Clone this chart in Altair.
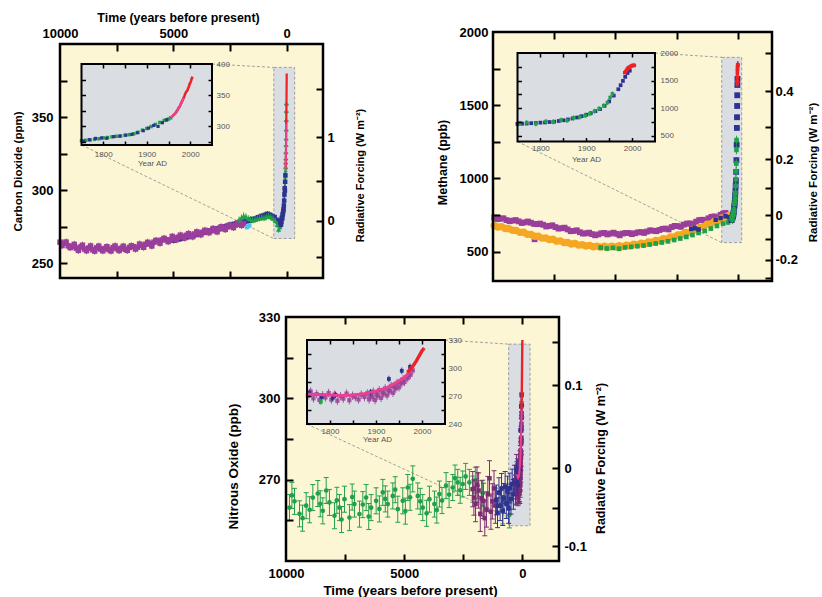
import math
import altair as alt
import pandas as pd

W, H = 822, 597
FONT = "Liberation Sans, Arial, sans-serif"
SFONT = "Liberation Sans, Arial, sans-serif"

YELLOW = "#fdf6d5"
GREY = "#dadde2"
PURPLE = "#9a3e9c"
BLUE = "#2d3290"
GREEN = "#21a04a"
RED = "#ec2227"
PINK = "#e9408f"
ORANGE = "#f5a623"
CYAN = "#4ec4ec"
DPURPLE = "#7d2c73"
PRESENT = 2005

# ======================= DATA =======================
# ---- Carbon dioxide (ppm) : long record, years before present ----
co2_purple_bp = [10000, 9820, 9640, 9460, 9280, 9100, 8920, 8740, 8560, 8380, 8200, 8020, 7840, 7660,
                 7480, 7300, 7120, 6940, 6760, 6580, 6400, 6220, 6040, 5860, 5680, 5500, 5320, 5140,
                 4960, 4780, 4600, 4420, 4240, 4060, 3880, 3700, 3520, 3340, 3160, 2980, 2800, 2620,
                 2440, 2260, 2080, 1900,
                 9910, 9730, 9550, 9370, 9190, 9010, 8830, 8650, 8470, 8290, 8110, 7930, 7750, 7570,
                 7390, 7210, 7030, 6850, 6670, 6490, 6310, 6130, 5950, 5770, 5590, 5410, 5230, 5050,
                 4870, 4690, 4510, 4330, 4150, 3970, 3790, 3610, 3430, 3250, 3070, 2890, 2710, 2530,
                 2350, 2170, 1990]
co2_purple = [264.5, 263.8, 262.0, 261.6, 260.4, 261.2, 259.8, 260.5, 259.3, 260.6, 259.7, 260.2, 259.4,
              260.8, 259.9, 260.3, 259.6, 260.9, 261.4, 261.0, 262.3, 263.1, 263.4, 264.5, 265.3, 266.0,
              266.2, 266.0, 267.3, 267.9, 268.4, 269.2, 269.0, 270.1, 270.8, 271.2, 271.9, 272.3, 272.8,
              273.6, 274.1, 274.9, 275.6, 276.2, 276.8, 277.1,
              262.2, 264.6, 260.8, 263.0, 258.9, 262.4, 258.7, 261.9, 258.4, 261.8, 258.6, 261.4, 258.5,
              261.9, 258.8, 261.7, 258.9, 262.0, 259.8, 263.2, 261.0, 264.4, 261.9, 265.7, 263.8, 267.1,
              264.9, 268.4, 266.2, 269.3, 267.4, 270.3, 268.2, 271.5, 269.6, 272.6, 271.0, 273.8, 271.6,
              275.0, 273.2, 276.1, 274.5, 277.6, 276.0]
co2_blue_bp = [5000, 4850, 4700, 4550, 4400, 4250, 4100, 3950, 3800, 3650, 3500, 3350, 3200, 3050, 2900,
               2750, 2600, 2450, 2300, 2150, 2000, 1850, 1700, 1550, 1400, 1250, 1100, 950, 850, 750,
               650, 550, 450, 350, 300]
co2_blue = [265.8, 266.4, 266.9, 267.6, 268.1, 268.9, 269.3, 270.0, 270.6, 271.3, 271.8, 272.4, 273.0,
            273.7, 274.2, 274.9, 275.6, 276.3, 276.8, 277.4, 278.1, 278.8, 279.2, 279.8, 280.4, 281.3,
            282.2, 282.9, 283.6, 283.0, 282.1, 281.4, 279.5, 277.6, 278.5]
co2_green_bp = [2100, 2000, 1900, 1800, 1700, 1600, 1500, 1400, 1300, 1200, 1100, 1000, 900, 800, 700,
                600, 500, 420, 360, 300]
co2_green = [279.8, 281.2, 282.6, 281.9, 280.8, 280.2, 279.6, 279.9, 280.4, 280.9, 281.3, 281.0, 281.8,
             282.4, 281.6, 280.7, 279.2, 276.4, 273.2, 274.8]
co2_cyan_bp = [1760, 1700, 1640]
co2_cyan = [274.6, 275.3, 275.9]
# ---- Carbon dioxide : since 1750, years AD ----
co2_rec_green_yr = [1750, 1760, 1770, 1780, 1790, 1800, 1810, 1820, 1830, 1840, 1850, 1860, 1870, 1880,
                    1890, 1900, 1910, 1920, 1930, 1940, 1945, 1950, 1955]
co2_rec_green = [277.0, 277.6, 278.2, 279.1, 280.0, 281.4, 282.0, 283.1, 284.0, 284.6, 285.5, 286.6, 288.0,
                 290.4, 293.8, 296.5, 299.6, 303.1, 306.2, 309.4, 310.6, 311.7, 313.6]
co2_firn_green_yr = [1958, 1962, 1966, 1970, 1974, 1978, 1982, 1986, 1990, 1993]
co2_firn_green = [315.0, 318.2, 321.0, 325.3, 330.1, 334.6, 340.8, 347.2, 353.4, 358.6]
co2_rec_blue_yr = [1755, 1768, 1782, 1796, 1808, 1824, 1838, 1852, 1866, 1878, 1892, 1904, 1916, 1926,
                   1936, 1946]
co2_rec_blue = [276.4, 278.5, 280.6, 281.3, 280.8, 283.4, 284.2, 285.9, 287.1, 289.6, 292.9, 297.1, 301.4,
                299.8, 305.8, 310.2]
co2_rec_pink_yr = [1955, 1960, 1965, 1970, 1975, 1980, 1985]
co2_rec_pink = [314.2, 317.2, 320.4, 325.1, 331.0, 338.2, 345.3]
co2_rec_red_yr = [1958, 1959, 1960, 1961, 1962, 1963, 1964, 1965, 1966, 1967, 1968, 1969, 1970, 1971,
                  1972, 1973, 1974, 1975, 1976, 1977, 1978, 1979, 1980, 1981, 1982, 1983, 1984, 1985,
                  1986, 1987, 1988, 1989, 1990, 1991, 1992, 1993, 1994, 1995, 1996, 1997, 1998, 1999,
                  2000, 2001, 2002, 2003, 2004, 2005]
co2_rec_red = [315.3, 316.0, 316.9, 317.6, 318.4, 319.0, 319.6, 320.0, 321.4, 322.2, 323.0, 324.6, 325.7,
               326.3, 327.5, 329.7, 330.2, 331.1, 332.0, 333.8, 335.4, 336.8, 338.7, 340.1, 341.4, 343.0,
               344.6, 346.0, 347.4, 349.2, 351.6, 353.1, 354.4, 355.6, 356.4, 357.1, 358.8, 360.8, 362.6,
               363.7, 366.7, 368.4, 369.6, 371.1, 373.2, 375.8, 377.5, 379.8]

# ---- Methane (ppb) : long record ----
ch4_purple_bp = [9950, 9700, 9450, 9200, 8950, 8700, 8450, 8200, 7950, 7700, 7450, 7200, 6950, 6700,
                 6450, 6200, 5950, 5700, 5450, 5200, 4950, 4700, 4450, 4200, 3950, 3700, 3450, 3200,
                 2950, 2700, 2450, 2200, 1950, 1700, 1450, 1200, 950, 700, 500,
                 9825, 9575, 9325, 9075, 8825, 8575, 8325, 8075, 7825, 7575, 7325, 7075, 6825, 6575,
                 6325, 6075, 5825, 5575, 5325, 5075, 4825, 4575, 4325, 4075, 3825, 3575, 3325, 3075,
                 2825, 2575, 2325, 2075, 1825, 1575, 1325, 1075, 825, 600, 8300]
ch4_purple = [733, 725, 716, 712, 707, 700, 698, 688, 684, 676, 668, 660, 652, 642, 633, 625, 620, 618,
              628, 624, 622, 624, 628, 626, 634, 638, 643, 648, 658, 668, 675, 685, 693, 705, 718, 728,
              741, 752, 765,
              722, 728, 708, 716, 696, 706, 690, 692, 672, 680, 658, 664, 640, 646, 624, 630, 612, 626,
              618, 630, 612, 628, 620, 632, 628, 646, 640, 656, 652, 676, 670, 692, 688, 716, 712, 738,
              734, 760, 585]
ch4_orange_bp = [9950, 9800, 9650, 9500, 9350, 9200, 9050, 8900, 8750, 8600, 8450, 8300, 8150, 8000,
                 7850, 7700, 7550, 7400, 7250, 7100, 6950, 6800, 6650, 6500, 6350, 6200, 6050, 5900,
                 5750, 5600, 5450, 5300, 5150, 5000, 4850, 4700, 4550, 4400, 4250, 4100, 3950, 3800,
                 3650, 3500, 3350, 3200, 3050, 2900, 2750, 2600, 2450, 2300, 2150, 2000, 1850, 1700,
                 1550, 1400, 1250, 1100, 950, 800, 650, 500, 350]
ch4_orange = [677, 669, 671, 658, 657, 646, 645, 632, 633, 619, 618, 605, 606, 593, 594, 583, 585, 572,
              574, 562, 563, 553, 556, 545, 548, 539, 543, 534, 538, 531, 537, 530, 538, 533, 541, 536,
              545, 541, 551, 547, 558, 555, 566, 564, 576, 575, 588, 587, 601, 601, 615, 616, 631, 632,
              648, 650, 667, 670, 687, 691, 709, 713, 731, 735, 748]
ch4_green_bp = [5600, 5350, 5100, 4850, 4600, 4350, 4100, 3850, 3600, 3350, 3100, 2850, 2600, 2350, 2100,
                1850, 1600, 1350, 1100, 850, 600, 400]
ch4_green = [528, 522, 526, 520, 529, 533, 538, 542, 549, 556, 563, 571, 580, 590, 601, 614, 628, 642,
             658, 676, 692, 700]
ch4_blue_bp = [1900, 1750, 1600, 900, 700, 500, 350]
ch4_blue = [655, 660, 652, 718, 730, 742, 735]
# ---- Methane : since 1750 ----
ch4_rec_blue_yr = [1750, 1760, 1770, 1780, 1790, 1800, 1810, 1820, 1830, 1840, 1850, 1860, 1870, 1880,
                   1890, 1900, 1910, 1920, 1930, 1940, 1950, 1960, 1970, 1975, 1980, 1985, 1990, 1995]
ch4_rec_blue = [716, 721, 724, 731, 734, 741, 744, 752, 759, 771, 784, 799, 816, 834, 858, 884, 912, 948,
                985, 1045, 1125, 1230, 1345, 1418, 1495, 1568, 1638, 1680]
ch4_rec_green_yr = [1755, 1770, 1790, 1812, 1828, 1845, 1858, 1872, 1886, 1898, 1908, 1918, 1928, 1938,
                    1946, 1952, 1957]
ch4_rec_green = [728, 742, 718, 762, 752, 788, 779, 828, 842, 868, 902, 948, 995, 1048, 1102, 1195, 1262]
ch4_rec_purple_yr = [1750, 1758]
ch4_rec_purple = [722, 731]
ch4_rec_red_yr = [1984, 1986, 1988, 1990, 1992, 1994, 1996, 1998, 2000, 2002, 2004, 2005]
ch4_rec_red = [1645, 1665, 1690, 1714, 1733, 1743, 1751, 1764, 1772, 1776, 1777, 1774]

# ---- Nitrous oxide (ppb) : long record ----
n2o_green_bp = [9852, 9641, 9429, 9147, 8865, 8654, 8443, 8161, 7949, 7738, 7526, 7315, 7104, 6892,
                6610, 6399, 6187, 5905, 5694, 5482, 5271, 5060, 4849, 4637, 4426, 4214, 3932, 3721,
                3510, 3228, 2946, 2735, 2523, 2241, 1889, 1678, 833, 550,
                9750, 9300, 9000, 8550, 8300, 7850, 7650, 7200, 6750, 6500, 6050, 5800, 5380, 4950,
                4750, 4320, 4050, 3620, 3400, 3100, 2850, 2630, 2400, 2100, 1990]
n2o_green = [259.7, 262.0, 257.4, 260.4, 263.4, 264.9, 258.5, 261.6, 256.7, 259.7, 262.8, 256.0, 261.0,
             257.3, 263.4, 259.7, 262.2, 265.3, 261.0, 264.0, 259.1, 262.2, 267.1, 270.3, 264.0, 259.7,
             262.8, 261.0, 264.7, 267.8, 267.1, 269.0, 268.4, 269.0, 267.8, 265.0, 258.5, 257.0,
             264.2, 255.8, 258.9, 261.1, 266.0, 262.4, 255.3, 263.6, 260.8, 256.4, 259.2, 262.9, 266.3,
             258.4, 263.5, 262.0, 257.6, 258.8, 262.3, 264.5, 270.6, 266.1, 271.2, 266.5, 269.8]
n2o_dpurple_bp = [2100, 2050, 1980, 1920, 1850, 1780, 1720, 1650, 1590, 1520, 1460, 1390, 1330, 1270,
                  1200, 1140]
n2o_dpurple = [266.5, 263.4, 261.0, 268.2, 266.0, 257.4, 263.1, 262.2, 255.8, 259.0, 264.7, 270.5, 258.2,
               262.0, 266.8, 260.4]
n2o_blue_bp = [1100, 1050, 990, 940, 880, 830, 780, 730, 680, 630, 580, 530, 480, 430, 380, 330, 290]
n2o_blue = [262.5, 257.8, 265.2, 260.4, 266.8, 258.6, 263.1, 267.5, 261.2, 265.8, 259.4, 266.9, 262.8,
            268.4, 264.6, 269.8, 266.2]
# ---- Nitrous oxide : since 1750 ----
n2o_rec_pink_yr = [1750, 1775, 1800, 1825, 1850, 1875, 1900, 1925, 1950, 1965, 1975]
n2o_rec_pink = [272.0, 271.6, 271.0, 270.6, 271.0, 272.4, 275.2, 279.3, 286.2, 291.0, 296.8]
n2o_rec_red_yr = [1968, 1972, 1976, 1980, 1984, 1988, 1992, 1996, 2000, 2005]
n2o_rec_red = [295.5, 297.4, 299.6, 302.0, 304.8, 308.0, 311.4, 314.9, 318.4, 321.5]
n2o_rec_purple_yr = [1752, 1758, 1764, 1771, 1777, 1784, 1790, 1797, 1803, 1810, 1816, 1823, 1829, 1836,
                     1842, 1849, 1855, 1862, 1868, 1875, 1881, 1888, 1894, 1901, 1907, 1914, 1920, 1927,
                     1933, 1940, 1946, 1953, 1959, 1966, 1972,
                     1885, 1892, 1898, 1904, 1911, 1917, 1924, 1930, 1937, 1943, 1950, 1956, 1962, 1969,
                     1975, 1980]
n2o_rec_purple = [270.2, 274.8, 267.5, 272.1, 265.8, 270.9, 268.4, 273.2, 266.1, 271.5, 264.9, 269.8,
                  267.2, 272.6, 265.5, 270.3, 268.8, 266.2, 271.4, 268.9, 272.8, 270.1, 274.6, 271.8,
                  276.2, 273.9, 278.1, 276.4, 280.8, 279.6, 283.9, 285.2, 288.1, 290.6, 294.2,
                  266.4, 268.9, 265.7, 270.3, 268.0, 272.5, 270.7, 275.2, 273.4, 278.0, 279.3, 283.6,
                  285.0, 289.2, 292.8, 297.5]
n2o_rec_blue_yr = [1755, 1782, 1806, 1812, 1888, 1928, 1956, 1974]
n2o_rec_blue = [273.5, 268.9, 268.0, 271.2, 274.0, 288.2, 297.0, 301.2]
n2o_rec_green_yr = [1780]
n2o_rec_green = [263.8]

# ---- radiative forcing axis definitions ----
co2_rf_ticks = [-0.5, 0, 0.5, 1, 1.5]
co2_rf_labels = ["", "0", "", "1", ""]
ch4_rf_ticks = [-0.3, -0.2, -0.1, 0, 0.1, 0.2, 0.3, 0.4, 0.5]
ch4_rf_labels = ["", "-0.2", "", "0", "", "0.2", "", "0.4", ""]
n2o_rf_ticks = [-0.1, -0.05, 0, 0.05, 0.1, 0.15]
n2o_rf_labels = ["-0.1", "", "0", "", "0.1", ""]


def rf_co2(r):
    return 279.0 * math.exp(r / 5.35)


def rf_ch4(r):
    return (math.sqrt(750.0) + r / 0.0319) ** 2


def rf_n2o(r):
    return (math.sqrt(274.3) + r / 0.1115) ** 2


def bp(years):
    return [PRESENT - y for y in years]


# ======================= HELPERS =======================
def S(dom, rng):
    return alt.Scale(domain=dom, range=rng, nice=False, zero=False)


def ax(**kw):
    base = dict(grid=False, domain=False, zindex=1)
    base.update(kw)
    return alt.Axis(**base)


def tick_axis(orient, offset, values, size=7, width=2):
    return ax(orient=orient, offset=offset, values=values, labels=False, ticks=True,
              tickSize=size, tickWidth=width, tickColor="black", title=None)


def label_axis(orient, offset, values, pad, fmt=None, expr=None, title=None, tx=0, ty=0,
               size=13, font=FONT, weight="bold", color="black", tsize=13, tangle=None):
    kw = dict(orient=orient, offset=offset, values=values, ticks=False, tickSize=0,
              labelPadding=pad, labelFont=font, labelFontSize=size, labelFontWeight=weight,
              labelColor=color, labelFlush=False, labelOverlap=False)
    if fmt:
        kw["format"] = fmt
    if expr:
        kw["labelExpr"] = expr
    if title:
        kw.update(title=title, titleX=tx, titleY=ty, titleFont=font, titleFontSize=tsize,
                  titleFontWeight=weight, titleColor=color, titleAlign="center",
                  titleBaseline="middle")
        if tangle is not None:
            kw["titleAngle"] = tangle
    else:
        kw["title"] = None
    return ax(**kw)


def label_expr(pos, labels):
    expr = "''"
    for p, l in reversed(list(zip(pos, labels))):
        if l:
            expr = f"abs(datum.value - {p}) < 0.01 ? '{l}' : ({expr})"
    return expr


def rect(xa, xb, ya, yb, xs, ys, xaxis=None, yaxis=None, **mk):
    df = pd.DataFrame({"xa": [xa], "xb": [xb], "ya": [ya], "yb": [yb]})
    return alt.Chart(df).mark_rect(**mk).encode(
        x=alt.X("xa:Q", scale=xs, axis=xaxis), x2="xb:Q",
        y=alt.Y("ya:Q", scale=ys, axis=yaxis), y2="yb:Q")


def connectors(c, xs, ys, xaxis=None, yaxis=None):
    df = pd.DataFrame({"xa": c[0], "ya": c[1], "xb": c[2], "yb": c[3]})
    return alt.Chart(df).mark_rule(color="#7d7d7d", strokeWidth=0.7, strokeDash=[3, 2]).encode(
        x=alt.X("xa:Q", scale=xs, axis=xaxis), x2="xb:Q",
        y=alt.Y("ya:Q", scale=ys, axis=yaxis), y2="yb:Q")


def series(x, y, xs, ys, color, size=14, shape="square", err=0.0, caps=False, opacity=1.0,
           cap_w=5, rule_w=1.0):
    df = pd.DataFrame({"x": x, "y": y})
    out = []
    if err:
        df["lo"] = df["y"] - err
        df["hi"] = df["y"] + err
        out.append(alt.Chart(df).mark_rule(color=color, strokeWidth=rule_w, opacity=opacity).encode(
            x=alt.X("x:Q", scale=xs, axis=None), y=alt.Y("lo:Q", scale=ys, axis=None), y2="hi:Q"))
        if caps:
            for c in ("lo", "hi"):
                out.append(alt.Chart(df).mark_tick(orient="horizontal", color=color, size=cap_w,
                                                   thickness=1, opacity=opacity).encode(
                    x=alt.X("x:Q", scale=xs, axis=None), y=alt.Y(f"{c}:Q", scale=ys, axis=None)))
    out.append(alt.Chart(df).mark_point(shape=shape, filled=True, size=size, color=color,
                                        opacity=opacity, strokeWidth=0).encode(
        x=alt.X("x:Q", scale=xs, axis=None), y=alt.Y("y:Q", scale=ys, axis=None)))
    return out


def line(x, y, xs, ys, color, width=2.0):
    df = pd.DataFrame({"x": x, "y": y})
    return [alt.Chart(df).mark_line(color=color, strokeWidth=width).encode(
        x=alt.X("x:Q", scale=xs, axis=None), y=alt.Y("y:Q", scale=ys, axis=None))]


def draw(items, xs, ys):
    out = []
    for kind, x, y, kw in items:
        out += line(x, y, xs, ys, **kw) if kind == "line" else series(x, y, xs, ys, **kw)
    return out


def panel(g, main_items, inset_items, box, conn, left, right, xlab, inset):
    L, R, T, B = g["L"], g["R"], g["T"], g["B"]
    iL, iR, iT, iB = g["iL"], g["iR"], g["iT"], g["iB"]
    xs = S(g["xdom"], [L, R])
    ys = S(g["ydom"], [B, T])
    ixs = S(g["ixdom"], [iL, iR])
    iys = S(g["iydom"], [iB, iT])
    xd, yd, ixd, iyd = g["xdom"], g["ydom"], g["ixdom"], g["iydom"]

    rf_pos = [round(v, 4) for v in right["pos"]]
    ax_left = label_axis("left", -L, left["values"], left["pad"], fmt="d", title=left["title"],
                         tx=left["tx"] - L, ty=left["ty"], tangle=270, tsize=left["fs"])
    ax_left_t = tick_axis("right", L - W, left["ticks"])
    ax_rf = label_axis("right", R - W, rf_pos, right["pad"], expr=label_expr(rf_pos, right["labels"]),
                       title="Radiative Forcing (W m\u207b\u00b2)", tx=right["tx"] - R, ty=right["ty"],
                       tangle=270, tsize=right["fs"])
    ax_rf_t = tick_axis("left", -R, rf_pos)
    ax_top_t = tick_axis("bottom", T - H, g["xticks"])
    ax_bot_t = tick_axis("top", -B, g["xticks"])
    ax_x = None
    if xlab:
        if xlab["orient"] == "top":
            ax_x = label_axis("top", -T, xlab["values"], xlab["pad"], fmt="d",
                              title="Time (years before present)", tx=xlab["tx"], ty=xlab["ty"] - T,
                              tsize=xlab["fs"])
        else:
            ax_x = label_axis("bottom", B - H, xlab["values"], xlab["pad"], fmt="d",
                              title="Time (years before present)", tx=xlab["tx"], ty=xlab["ty"] - B,
                              tsize=xlab["fs"])

    layers = []
    layers.append(rect(xd[0], xd[1], yd[0], yd[1], xs, ys, ax_x, ax_left, color=YELLOW))
    layers.append(rect(box[0], box[1], box[2], box[3], xs, ys, ax_top_t, ax_left_t, fill=GREY,
                       stroke="#8c8c8c", strokeWidth=0.8, strokeDash=[3, 2]))
    layers.append(connectors(conn, xs, ys, ax_bot_t, ax_rf))
    layers += draw(main_items, xs, ys)

    # inset
    ax_ix = label_axis("bottom", iB - H, [1800, 1900, 2000], inset["xpad"], fmt="d", title="Year AD",
                       tx=inset["tx"], ty=inset["ty"] - iB, size=8, font=SFONT, weight="normal",
                       color="#555555", tsize=8)
    ax_iy = label_axis("right", iR - W, inset["ylabels"], inset["ypad"], fmt="d", size=8, font=SFONT,
                       weight="normal", color="#555555")
    ixt = [1800, 1850, 1900, 1950, 2000]
    layers.append(rect(ixd[0], ixd[1], iyd[0], iyd[1], ixs, iys, ax_ix, ax_iy, color=GREY))
    layers += draw(inset_items, ixs, iys)
    layers.append(rect(ixd[0], ixd[1], iyd[0], iyd[1], ixs, iys,
                       tick_axis("bottom", iT - H, ixt, size=4, width=1.5),
                       tick_axis("right", iL - W, inset["yticks"], size=4, width=1.5),
                       fillOpacity=0, stroke="black", strokeWidth=2))
    layers.append(rect(ixd[0], ixd[1], iyd[0], iyd[1], ixs, iys,
                       tick_axis("top", -iB, ixt, size=4, width=1.5),
                       tick_axis("left", -iR, inset["yticks"], size=4, width=1.5),
                       opacity=0))
    # main frame
    layers.append(rect(xd[0], xd[1], yd[0], yd[1], xs, ys, None, ax_rf_t,
                       fillOpacity=0, stroke="black", strokeWidth=2.5))
    return layers


# ======================= PANELS =======================
co2_layers = panel(
    dict(L=60, R=323, T=44, B=278, xdom=[10000, -1600], ydom=[240, 400],
         iL=81.5, iR=212, iT=64, iB=145, ixdom=[1750, 2050], iydom=[270, 400],
         xticks=[7500, 5000, 2500, 0]),
    [
        ("pts", co2_blue_bp, co2_blue, dict(color=BLUE, size=28, err=2.2)),
        ("pts", co2_purple_bp, co2_purple, dict(color=PURPLE, size=30, err=2.4)),
        ("pts", co2_green_bp, co2_green, dict(color=GREEN, size=26, err=2.2, shape="triangle-up")),
        ("pts", co2_cyan_bp, co2_cyan, dict(color=CYAN, size=16, err=1.2)),
        ("pts", bp(co2_rec_green_yr), co2_rec_green, dict(color=GREEN, size=20, err=2.5, shape="triangle-up")),
        ("pts", bp(co2_rec_blue_yr), co2_rec_blue, dict(color=BLUE, size=20, err=2.0)),
        ("pts", bp(co2_firn_green_yr), co2_firn_green, dict(color=GREEN, size=20, err=2.5, shape="cross")),
        ("line", bp(co2_rec_red_yr), co2_rec_red, dict(color=RED, width=2.2)),
        ("line", bp(co2_rec_pink_yr), co2_rec_pink, dict(color=PINK, width=2.0)),
    ],
    [
        ("pts", co2_rec_green_yr, co2_rec_green, dict(color=GREEN, size=12, err=1.0)),
        ("pts", co2_rec_blue_yr, co2_rec_blue, dict(color=BLUE, size=10, err=1.6)),
        ("line", co2_rec_red_yr, co2_rec_red, dict(color=RED, width=2.6)),
        ("line", co2_rec_pink_yr, co2_rec_pink, dict(color=PINK, width=2.4)),
    ],
    box=[570, -350, 267, 384],
    conn=[[3296, 9052], [386.3, 331.0], [570, 570], [384, 267]],
    left=dict(values=[250, 300, 350], ticks=[250, 275, 300, 325, 350, 375], pad=7,
              title="Carbon Dioxide (ppm)", tx=18, ty=171, fs=11.5),
    right=dict(pos=[rf_co2(r) for r in co2_rf_ticks], labels=co2_rf_labels, pad=4, tx=360, ty=175,
               fs=11),
    xlab=dict(orient="top", values=[10000, 5000, 0], pad=4, tx=178, ty=17, fs=12.4),
    inset=dict(yticks=[275, 300, 325, 350, 375], ylabels=[300, 350, 400], xpad=5, ypad=4, tx=152, ty=163),
)

ch4_layers = panel(
    dict(L=493, R=772, T=32, B=281, xdom=[10000, -1400], ydom=[300, 2000],
         iL=517.5, iR=655, iT=53, iB=141.5, ixdom=[1750, 2050], iydom=[400, 2000],
         xticks=[7500, 5000, 2500, 0]),
    [
        ("pts", ch4_purple_bp, ch4_purple, dict(color=PURPLE, size=34, err=18)),
        ("pts", ch4_orange_bp, ch4_orange, dict(color=ORANGE, size=55, err=16, shape="circle")),
        ("pts", ch4_green_bp, ch4_green, dict(color=GREEN, size=22, err=14)),
        ("pts", ch4_blue_bp, ch4_blue, dict(color=BLUE, size=20, err=12)),
        ("pts", bp(ch4_rec_purple_yr), ch4_rec_purple, dict(color=PURPLE, size=20, err=10)),
        ("pts", bp(ch4_rec_blue_yr), ch4_rec_blue, dict(color=BLUE, size=34, err=18)),
        ("pts", bp(ch4_rec_green_yr), ch4_rec_green, dict(color=GREEN, size=22, err=30)),
        ("pts", bp(ch4_rec_red_yr), ch4_rec_red, dict(color=RED, size=12, err=25)),
    ],
    [
        ("pts", ch4_rec_purple_yr, ch4_rec_purple, dict(color=PURPLE, size=12, err=20)),
        ("pts", ch4_rec_blue_yr, ch4_rec_blue, dict(color=BLUE, size=14, err=20)),
        ("pts", ch4_rec_green_yr, ch4_rec_green, dict(color=GREEN, size=12, err=45)),
        ("pts", ch4_rec_red_yr, ch4_rec_red, dict(color=RED, size=12, err=15)),
    ],
    box=[654, -163, 562, 1827],
    conn=[[3381, 8999], [1856.6, 1252.4], [654, 654], [1827, 562]],
    left=dict(values=[500, 1000, 1500, 2000], ticks=[500, 750, 1000, 1250, 1500, 1750], pad=5,
              title="Methane (ppb)", tx=442, ty=162, fs=12.5),
    right=dict(pos=[rf_ch4(r) for r in ch4_rf_ticks], labels=ch4_rf_labels, pad=3, tx=813, ty=172,
               fs=11.5),
    xlab=None,
    inset=dict(yticks=[500, 750, 1000, 1250, 1500, 1750], ylabels=[500, 1000, 1500, 2000], xpad=3,
               ypad=5, tx=586, ty=159),
)

n2o_layers = panel(
    dict(L=286, R=559, T=317, B=561, xdom=[10000, -1550], ydom=[240, 330],
         iL=307, iR=445, iT=340, iB=424, ixdom=[1750, 2050], iydom=[240, 330],
         xticks=[7500, 5000, 2500, 0]),
    [
        ("pts", n2o_green_bp, n2o_green, dict(color=GREEN, size=22, err=4.8, caps=True, shape="circle")),
        ("pts", n2o_dpurple_bp, n2o_dpurple, dict(color=DPURPLE, size=20, err=6.5, caps=True)),
        ("pts", n2o_blue_bp, n2o_blue, dict(color=BLUE, size=20, err=5.5, caps=True)),
        ("pts", bp(n2o_rec_purple_yr), n2o_rec_purple, dict(color=DPURPLE, size=20, err=4.5, caps=True)),
        ("pts", bp(n2o_rec_blue_yr), n2o_rec_blue, dict(color=BLUE, size=20, err=4)),
        ("line", bp(n2o_rec_pink_yr), n2o_rec_pink, dict(color=PINK, width=2.0)),
        ("line", bp(n2o_rec_red_yr), n2o_rec_red, dict(color=RED, width=2.4)),
    ],
    [
        ("pts", n2o_rec_purple_yr, n2o_rec_purple, dict(color="#9b3f95", size=18, err=4.5, opacity=0.85)),
        ("pts", n2o_rec_blue_yr, n2o_rec_blue, dict(color=BLUE, size=14, err=3.5)),
        ("pts", n2o_rec_green_yr, n2o_rec_green, dict(color=GREEN, size=14, err=3)),
        ("line", n2o_rec_pink_yr, n2o_rec_pink, dict(color=PINK, width=3.0)),
        ("line", n2o_rec_red_yr, n2o_rec_red, dict(color=RED, width=3.4)),
    ],
    box=[580, -325, 253, 320],
    conn=[[3273, 9112], [321.5, 290.5], [580, 580], [320, 256]],
    left=dict(values=[270, 300, 330], ticks=[255, 270, 285, 300, 315], pad=6,
              title="Nitrous Oxide (ppb)", tx=233, ty=466, fs=13.5),
    right=dict(pos=[rf_n2o(r) for r in n2o_rf_ticks], labels=n2o_rf_labels, pad=5, tx=600, ty=458,
               fs=12.5),
    xlab=dict(orient="bottom", values=[10000, 5000, 0], pad=6, tx=410, ty=590, fs=13.3),
    inset=dict(yticks=[255, 270, 285, 300, 315], ylabels=[240, 270, 300, 330], xpad=3, ypad=3,
               tx=377, ty=439),
)

chart = alt.layer(*(co2_layers + ch4_layers + n2o_layers)).resolve_scale(
    x="independent", y="independent"
).resolve_axis(
    x="independent", y="independent"
).properties(
    width=W, height=H, padding=0, autosize=alt.AutoSizeParams(type="none"), background="white"
).configure_view(stroke=None)

chart.save("out.html", embed_options={"renderer": "svg", "actions": False})
